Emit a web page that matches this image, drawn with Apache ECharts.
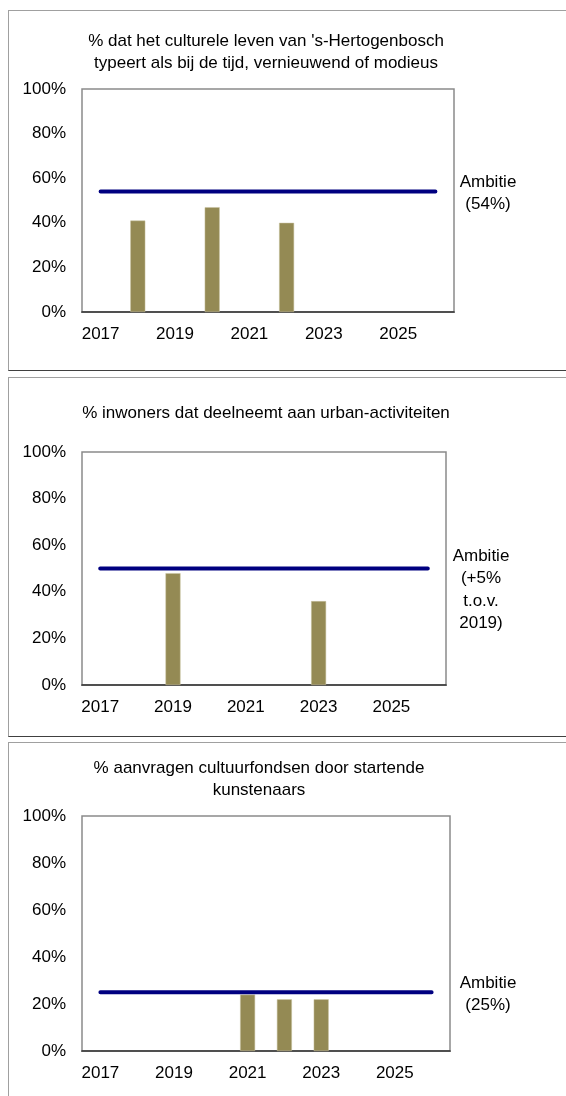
<!DOCTYPE html>
<html>
<head>
<meta charset="utf-8">
<script src="https://cdn.jsdelivr.net/npm/echarts@6/dist/echarts.min.js"></script>
<style>
    body { margin: 0; background: #fff; overflow: hidden; }
    .panel {
        position: absolute;
        left: 8px;
        width: 620px;
        border-top: 1px solid #a0a0a0;
        border-left: 1px solid #a0a0a0;
        border-bottom: 1px solid #404040;
    }
    #chart {
        position: absolute;
        left: 0;
        top: 0;
        width: 566px;
        height: 1096px;
    }
</style>
</head>
<body>
<div class="panel" style="top: 10px; height: 359px;"></div>
<div class="panel" style="top: 377px; height: 358px;"></div>
<div class="panel" style="top: 742px; height: 400px;"></div>
<div id="chart"></div>
<script>
const years = ["2017", "2018", "2019", "2020", "2021", "2022", "2023", "2024", "2025", "2026"];
const yTicks = [0, 20, 40, 60, 80, 100];

const cultureValues = [null, 41, null, 47, null, 40, null, null, null, null];
const cultureAmbition = [54, 54, 54, 54, 54, 54, 54, 54, 54, 54];

const urbanValues = [null, null, 48, null, null, null, 36, null, null, null];
const urbanAmbition = [50, 50, 50, 50, 50, 50, 50, 50, 50, 50];

const fundValues = [null, null, null, null, 24, 22, 22, null, null, null];
const fundAmbition = [25, 25, 25, 25, 25, 25, 25, 25, 25, 25];

const titles = [
    "% dat het culturele leven van 's-Hertogenbosch\ntypeert als bij de tijd, vernieuwend of modieus",
    "% inwoners dat deelneemt aan urban-activiteiten",
    "% aanvragen cultuurfondsen door startende\nkunstenaars"
];
const ambitionLabels = ["Ambitie\n(54%)", "Ambitie\n(+5%\nt.o.v.\n2019)", "Ambitie\n(25%)"];

const FONT = "'Liberation Sans', Arial, sans-serif";
const BAR = "#948A54";
const NAVY = "#000080";

const grids = [
    { left: 82, top: 89, width: 372, height: 223 },
    { left: 82, top: 452, width: 364, height: 233 },
    { left: 82, top: 816, width: 368, height: 235 }
];

const chart = echarts.init(document.getElementById("chart"));

const xAxes = grids.map((g, i) => ({
    type: "category",
    gridIndex: i,
    data: years,
    boundaryGap: true,
    axisLine: { lineStyle: { color: "#333", width: 1.7 } },
    axisTick: { alignWithLabel: true, inside: true, length: 4, interval: 0, lineStyle: { color: "#333", width: 1 } },
    axisLabel: { interval: 1, margin: 14, fontSize: 17, color: "#000", fontFamily: FONT }
}));

const yAxes = grids.map((g, i) => ({
    type: "value",
    gridIndex: i,
    min: yTicks[0],
    max: yTicks[yTicks.length - 1],
    interval: 20,
    axisLine: { show: false },
    axisTick: { show: false },
    splitLine: { show: false },
    axisLabel: { formatter: "{value}%", margin: 16, fontSize: 17, color: "#000", fontFamily: FONT }
}));

const barSets = [cultureValues, urbanValues, fundValues];
const lineSets = [cultureAmbition, urbanAmbition, fundAmbition];
const series = [];
barSets.forEach((vals, i) => {
    series.push({
        type: "bar",
        xAxisIndex: i,
        yAxisIndex: i,
        data: vals,
        barWidth: 15,
        itemStyle: { color: BAR, borderColor: "#c8c2a0", borderWidth: 0.5 },
        z: 2
    });
    series.push({
        type: "line",
        xAxisIndex: i,
        yAxisIndex: i,
        data: lineSets[i],
        symbol: "none",
        lineStyle: { color: NAVY, width: 4, cap: "round" },
        z: 3
    });
});

const titlePos = [
    { x: 266, y: 30 },
    { x: 266, y: 402 },
    { x: 259, y: 757 }
];
const ambPos = [
    { x: 488, y: 171 },
    { x: 481, y: 545 },
    { x: 488, y: 972 }
];

const graphic = [];
titles.forEach((t, i) => {
    graphic.push({
        type: "text",
        x: titlePos[i].x,
        y: titlePos[i].y,
        style: { text: t, align: "center", verticalAlign: "top", lineHeight: 22, font: "17px " + FONT, fill: "#000" }
    });
});
ambitionLabels.forEach((t, i) => {
    graphic.push({
        type: "text",
        x: ambPos[i].x,
        y: ambPos[i].y,
        style: { text: t, align: "center", verticalAlign: "top", lineHeight: 22.5, font: "17px " + FONT, fill: "#000" }
    });
});

chart.setOption({
    animation: false,
    backgroundColor: "transparent",
    grid: grids.map(g => Object.assign({ show: true, borderColor: "#8a8a8a", borderWidth: 1.5 }, g)),
    xAxis: xAxes,
    yAxis: yAxes,
    series: series,
    graphic: graphic
});
</script>
</body>
</html>
